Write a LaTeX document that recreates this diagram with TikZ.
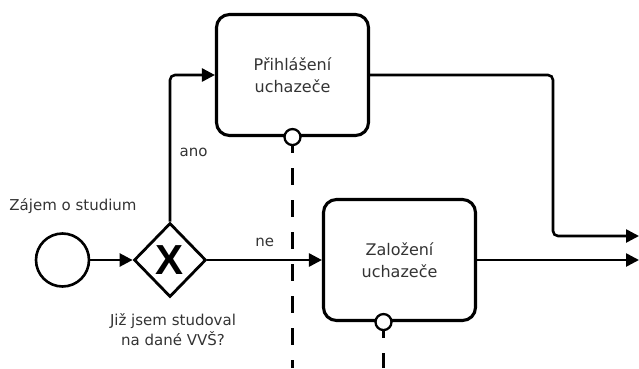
\documentclass[tikz,border=0pt]{standalone}
\usepackage{fontspec}
\setmainfont{DejaVu Sans}
\newfontfamily\gwfont{Liberation Sans}
\usepackage{tikz}
\usetikzlibrary{shapes.geometric,arrows.meta}

\newcommand{\lbltxt}{\fontsize{15}{19.5}\selectfont}
\newcommand{\tasktxt}{\fontsize{16}{22.5}\selectfont}

\begin{document}
\begin{tikzpicture}[x=1pt, y=1pt,
    event/.style={circle, draw, line width=2.6pt, minimum size=53pt, inner sep=0pt},
    gateway/.style={diamond, draw, line width=2.8pt, minimum width=72pt, minimum height=74pt, inner sep=0pt, font=\gwfont\bfseries\fontsize{42}{42}\selectfont},
    task/.style={rectangle, draw, line width=3.1pt, rounded corners=13pt, minimum width=152pt, minimum height=121pt, align=center, font=\tasktxt, text=black!80},
    boundary/.style={circle, draw, fill=white, line width=2.3pt, minimum size=16pt, inner sep=0pt},
    desc/.style={font=\lbltxt, text=black!80},
    line/.style={draw, -{Triangle[length=13pt,width=13pt]}, line width=2.6pt, rounded corners=5pt},
    assoc/.style={draw, line width=2.1pt, dash pattern=on 17pt off 15pt, dash phase=10pt}]
    \useasboundingbox (0,0) rectangle (639,368);

    % Start event and gateway
    \node [event] (start) at (62.5,108) {};
    \node [gateway] (gw) at (170,108) {X};

    % Tasks
    \node [task] (prihlaseni) at (292.5,293) {Přihlášení\\uchazeče};
    \node [task] (zalozeni) at (399.5,108) {Založení\\uchazeče};

    % Boundary events
    \node [boundary] (bprihlaseni) at (prihlaseni.south) {};
    \node [boundary] (bzalozeni) at ([xshift=-16pt]zalozeni.south) {};

    % Labels
    \node [desc] (zajem) at (73,162) {Zájem o studium};
    \node [desc, align=center] (otazka) at (173,38.5) {Již jsem studoval\\na dané VVŠ?};

    % Free ends
    \coordinate (bottom) at (0,0);
    \coordinate (bend) at (553,132);
    \coordinate (out1) at (639,132);
    \coordinate (out2) at (639,108);

    % Flow connections
    \path [line] (start) -- (gw);
    \path [line] (gw.north) |- node [pos=0.235, right=5pt, desc] {ano} (prihlaseni.west);
    \path [line] (gw) -- node [above=9pt, desc] {ne} (zalozeni);
    \path [line] (prihlaseni.east) -| (bend) -- (out1);
    \path [line] (zalozeni) -- (out2);

    % Associations
    \path [assoc] (bprihlaseni.south) -- (bprihlaseni |- bottom);
    \path [assoc] (bzalozeni.south) -- (bzalozeni |- bottom);
\end{tikzpicture}
\end{document}
